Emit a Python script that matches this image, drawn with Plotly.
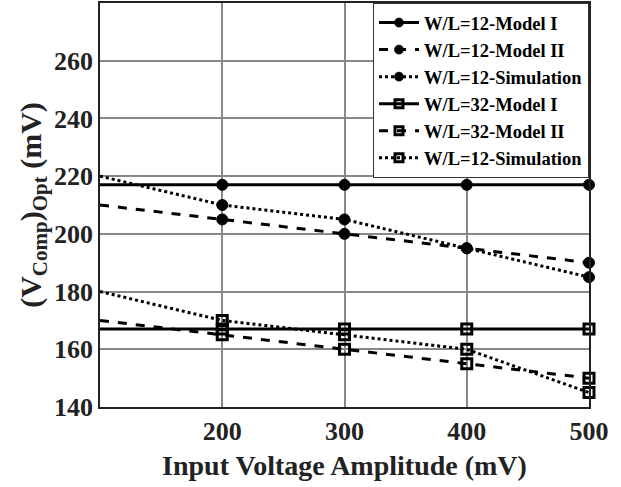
import plotly.graph_objects as go

x = [100, 200, 300, 400, 500]
wl12_model1 = [217, 217, 217, 217, 217]
wl12_model2 = [210, 205, 200, 195, 190]
wl12_sim = [220, 210, 205, 195, 185]
wl32_model1 = [167, 167, 167, 167, 167]
wl32_model2 = [170, 165, 160, 155, 150]
wl32_sim = [180, 170, 165, 160, 145]

names = ["W/L=12-Model I", "W/L=12-Model II", "W/L=12-Simulation",
         "W/L=32-Model I", "W/L=32-Model II", "W/L=12-Simulation"]
series = [wl12_model1, wl12_model2, wl12_sim, wl32_model1, wl32_model2, wl32_sim]
dashes = ["solid", "dash", "dot", "solid", "dash", "dot"]
symbols = ["circle", "circle", "circle", "square-open", "square-open", "square-open"]

fig = go.Figure()
for n, s, d, sym in zip(names, series, dashes, symbols):
    is_sq = sym.startswith("square")
    fig.add_trace(go.Scatter(
        x=x, y=s, name=n, mode="lines+markers",
        line=dict(color="black", width=3, dash=d),
        marker=dict(symbol=sym, color="#000000", opacity=1,
                    size=[0] + [10 if is_sq else 11] * 4,
                    line=dict(color="#000000", width=3 if is_sq else 1)),
        cliponaxis=False,
    ))

font_family = "Liberation Serif"
fig.update_layout(
    width=621, height=487,
    margin=dict(l=100, r=32, t=1, b=80),
    paper_bgcolor="white", plot_bgcolor="white",
    font=dict(family=font_family, color="black"),
    showlegend=True,
    legend=dict(x=1, y=1, xanchor="right", yanchor="top",
                bgcolor="white", bordercolor="#333", borderwidth=1,
                font=dict(family=font_family, size=18.5, color="black", weight="bold"),
                tracegroupgap=0, itemwidth=40,
                ),
    xaxis=dict(range=[100, 500], tickvals=[200, 300, 400, 500],
               showgrid=True, gridcolor="#888", gridwidth=1.5,
               showline=True, linecolor="#222", linewidth=1.5, mirror=True,
               ticks="", zeroline=False,
               tickfont=dict(family=font_family, size=26, color="#222", weight="bold"),
               title=dict(text="Input Voltage Amplitude (mV)", standoff=10,
                          font=dict(family=font_family, size=28, color="#222", weight="bold"))),
    yaxis=dict(range=[140, 280], tickvals=[140, 160, 180, 200, 220, 240, 260],
               showgrid=True, gridcolor="#888", gridwidth=1.5,
               showline=True, linecolor="#222", linewidth=1.5, mirror=True,
               ticks="", zeroline=False,
               tickfont=dict(family=font_family, size=26, color="#222", weight="bold"),
               title=dict(text="(V<sub>Comp</sub>)<sub>Opt</sub> (mV)", standoff=4,
                          font=dict(family=font_family, size=30, color="#222", weight="bold"))),
)

fig.write_html("out.html")
